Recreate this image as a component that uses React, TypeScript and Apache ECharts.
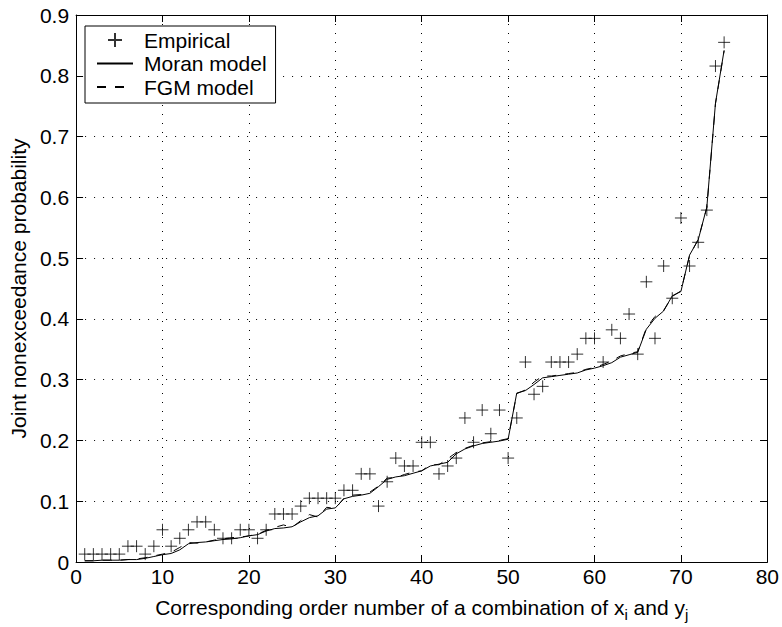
import React, { useEffect, useRef } from "react";
import * as echarts from "echarts";

// Order numbers of the 75 (x_i, y_j) combinations
const orders: number[] = Array.from({ length: 75 }, (_, i) => i + 1);

// Empirical joint nonexceedance probability
const empirical: number[] = [
  0.013, 0.013, 0.013, 0.013, 0.013, 0.026, 0.026, 0.013, 0.026, 0.053,
  0.026, 0.039, 0.053, 0.066, 0.066, 0.053, 0.039, 0.039, 0.053, 0.053,
  0.039, 0.053, 0.079, 0.079, 0.079, 0.092, 0.105, 0.105, 0.105, 0.105,
  0.118, 0.118, 0.145, 0.145, 0.092, 0.132, 0.171, 0.158, 0.158, 0.197,
  0.197, 0.145, 0.158, 0.171, 0.237, 0.197, 0.25, 0.211, 0.25, 0.171,
  0.237, 0.329, 0.276, 0.289, 0.329, 0.329, 0.329, 0.342, 0.368, 0.368,
  0.329, 0.382, 0.368, 0.408, 0.342, 0.461, 0.368, 0.487, 0.434, 0.566,
  0.487, 0.526, 0.579, 0.816, 0.855,
];

// Moran model
const moran: number[] = [
  0.002, 0.002, 0.003, 0.003, 0.003, 0.004, 0.004, 0.006, 0.009, 0.012,
  0.014, 0.02, 0.03, 0.032, 0.033, 0.035, 0.037, 0.038, 0.04, 0.043,
  0.045, 0.051, 0.055, 0.056, 0.058, 0.066, 0.073, 0.076, 0.087, 0.089,
  0.104, 0.108, 0.11, 0.113, 0.124, 0.136, 0.14, 0.142, 0.146, 0.15,
  0.158, 0.161, 0.164, 0.178, 0.186, 0.191, 0.195, 0.197, 0.199, 0.202,
  0.278, 0.282, 0.292, 0.303, 0.305, 0.307, 0.309, 0.311, 0.316, 0.319,
  0.323, 0.328, 0.337, 0.341, 0.345, 0.383, 0.401, 0.413, 0.438, 0.445,
  0.505, 0.53, 0.584, 0.755, 0.842,
];

// FGM model
const fgm: number[] = [
  0.002, 0.002, 0.003, 0.003, 0.003, 0.004, 0.005, 0.007, 0.01, 0.013,
  0.016, 0.024, 0.032, 0.031, 0.033, 0.036, 0.038, 0.04, 0.041, 0.043,
  0.046, 0.052, 0.057, 0.061, 0.057, 0.068, 0.078, 0.074, 0.09, 0.088,
  0.105, 0.11, 0.111, 0.115, 0.125, 0.138, 0.139, 0.144, 0.148, 0.15,
  0.16, 0.16, 0.17, 0.18, 0.187, 0.192, 0.196, 0.198, 0.2, 0.203,
  0.277, 0.283, 0.296, 0.306, 0.306, 0.308, 0.31, 0.312, 0.317, 0.32,
  0.325, 0.331, 0.339, 0.343, 0.346, 0.385, 0.404, 0.414, 0.437, 0.446,
  0.504, 0.531, 0.583, 0.754, 0.841,
];

const FONT = "'Liberation Sans', Arial, Helvetica, sans-serif";
const INK = "#000";
const FS = 21;

export default function App() {
  const ref = useRef<HTMLDivElement>(null);

  useEffect(() => {
    if (!ref.current) return;
    const chart = echarts.init(ref.current, undefined, { renderer: "svg" });

    const dotted = { color: INK, width: 1, type: [1, 8] as number[] };
    const tickIn = { show: true, inside: true, length: 7, lineStyle: { color: INK, width: 1 } };
    const frameLine = { show: true, onZero: false, lineStyle: { color: INK, width: 1 } };

    chart.setOption({
      animation: false,
      backgroundColor: "#fff",
      color: [INK, INK, INK],
      textStyle: { fontFamily: FONT, color: INK },
      grid: { left: 73.5, right: 14, top: 15, bottom: 64, containLabel: false },
      legend: {
        orient: "vertical",
        left: 85,
        top: 26,
        backgroundColor: "#fff",
        borderColor: INK,
        borderWidth: 1,
        borderRadius: 0,
        padding: [3.5, 9, 5.5, 11],
        itemGap: 2.5,
        itemWidth: 36,
        itemHeight: 14,
        textStyle: { fontFamily: FONT, fontSize: FS, color: INK, lineHeight: 21, padding: [0, 0, 0, 6] },
        data: [
          { name: "Empirical" },
          { name: "Moran model", itemStyle: { opacity: 0 } },
          { name: "FGM model", itemStyle: { opacity: 0 } },
        ],
      },
      xAxis: [
        {
          type: "value",
          min: 0,
          max: 80,
          interval: 10,
          position: "bottom",
          name: "Corresponding order number of a combination of x{sub|i} and y{sub|j}",
          nameLocation: "middle",
          nameGap: 30,
          nameTextStyle: {
            fontFamily: FONT,
            fontSize: FS,
            color: INK,
            rich: {
              sub: { fontFamily: FONT, fontSize: 15, color: INK, padding: [15, 0, 0, 0] },
            },
          },
          axisLine: frameLine,
          axisTick: tickIn,
          axisLabel: { fontFamily: FONT, fontSize: FS, color: INK, margin: 4 },
          splitLine: { show: true, lineStyle: dotted },
        },
        {
          type: "value",
          min: 0,
          max: 80,
          interval: 10,
          position: "top",
          axisLine: frameLine,
          axisTick: tickIn,
          axisLabel: { show: false },
          splitLine: { show: false },
        },
      ],
      yAxis: [
        {
          type: "value",
          min: 0,
          max: 0.9,
          interval: 0.1,
          position: "left",
          name: "Joint nonexceedance probability",
          nameLocation: "middle",
          nameRotate: 90,
          nameGap: 45,
          nameTextStyle: { fontFamily: FONT, fontSize: FS, color: INK },
          axisLine: frameLine,
          axisTick: tickIn,
          axisLabel: {
            fontFamily: FONT,
            fontSize: FS,
            color: INK,
            margin: 7,
            formatter: (v: number) => (v === 0 ? "0" : v.toFixed(1)),
          },
          splitLine: { show: true, lineStyle: dotted },
        },
        {
          type: "value",
          min: 0,
          max: 0.9,
          interval: 0.1,
          position: "right",
          axisLine: frameLine,
          axisTick: tickIn,
          axisLabel: { show: false },
          splitLine: { show: false },
        },
      ],
      series: [
        {
          name: "Empirical",
          type: "scatter",
          symbol: "path://M5,0V10M0,5H10",
          symbolSize: 12,
          itemStyle: { color: "transparent", borderColor: INK, borderWidth: 1 },
          data: orders.map((x, i) => [x, empirical[i]]),
          z: 3,
        },
        {
          name: "Moran model",
          type: "line",
          symbol: "none",
          itemStyle: { color: INK },
          lineStyle: { color: INK, width: 1 },
          data: orders.map((x, i) => [x, moran[i]]),
          z: 2,
        },
        {
          name: "FGM model",
          type: "line",
          symbol: "none",
          itemStyle: { color: INK },
          lineStyle: { color: INK, width: 1, type: [9, 9] },
          data: orders.map((x, i) => [x, fgm[i]]),
          z: 2,
        },
      ],
    });

    return () => chart.dispose();
  }, []);

  return (
    <div
      ref={ref}
      style={{ position: "fixed", left: 0, top: 0, width: 782, height: 627, background: "#fff" }}
    />
  );
}
